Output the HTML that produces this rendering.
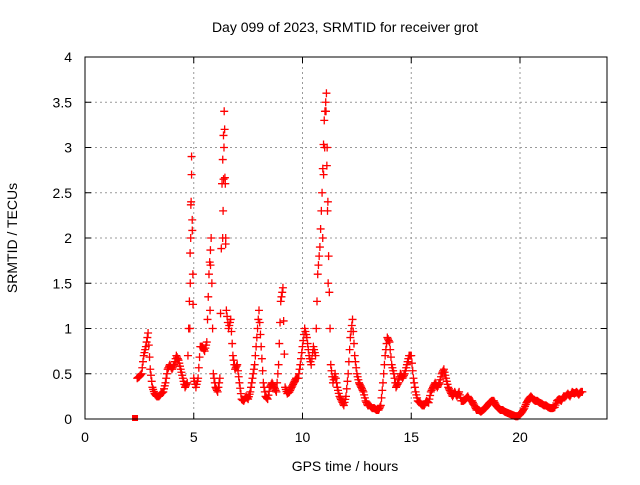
<!DOCTYPE html>
<html><head><meta charset="utf-8"><style>
body{margin:0;background:#fff}
svg text{font-family:"Liberation Sans",sans-serif;font-size:14px;fill:#000}
</style></head><body>
<svg id="chart" width="640" height="480" viewBox="0 0 640 480" xmlns="http://www.w3.org/2000/svg">
<rect width="640" height="480" fill="#fff"/>
<text x="345" y="32" text-anchor="middle">Day 099 of 2023, SRMTID for receiver grot</text>
<text x="345" y="471" text-anchor="middle">GPS time / hours</text>
<text x="17" y="238" text-anchor="middle" transform="rotate(-90 17 238)">SRMTID / TECUs</text>
<g id="grid"></g><g id="ticks"></g><g id="marks"></g>
<rect x="85" y="57" width="522" height="362" fill="none" stroke="#000" stroke-width="1"/>
</svg>
<script>
const xTicks=[0,5,10,15,20];
const yTicks=[0,0.5,1,1.5,2,2.5,3,3.5,4];
const yTickLabels=["0","0.5","1","1.5","2","2.5","3","3.5","4"];
const times=[2.4,2.5,2.6,2.7,2.8,2.9,3.0,3.1,3.2,3.3,3.4,3.5,3.6,3.7,3.8,3.9,4.0,4.1,4.2,4.3,4.4,4.5,4.6,4.7,4.8,4.9,5.0,5.1,5.2,5.3,5.4,5.5,5.6,5.7,5.8,5.9,6.0,6.1,6.2,6.3,6.4,6.5,6.6,6.7,6.8,6.9,7.0,7.1,7.2,7.3,7.4,7.5,7.6,7.7,7.8,7.9,8.0,8.1,8.2,8.3,8.4,8.5,8.6,8.7,8.8,8.9,9.0,9.1,9.2,9.3,9.4,9.5,9.6,9.7,9.8,9.9,10.0,10.1,10.2,10.3,10.4,10.5,10.6,10.7,10.8,10.9,11.0,11.1,11.2,11.3,11.4,11.5,11.6,11.7,11.8,11.9,12.0,12.1,12.2,12.3,12.4,12.5,12.6,12.7,12.8,12.9,13.0,13.1,13.2,13.3,13.4,13.5,13.6,13.7,13.8,13.9,14.0,14.1,14.2,14.3,14.4,14.5,14.6,14.7,14.8,14.9,15.0,15.1,15.2,15.3,15.4,15.5,15.6,15.7,15.8,15.9,16.0,16.1,16.2,16.3,16.4,16.5,16.6,16.7,16.8,16.9,17.0,17.1,17.2,17.3,17.4,17.5,17.6,17.7,17.8,17.9,18.0,18.1,18.2,18.3,18.4,18.5,18.6,18.7,18.8,18.9,19.0,19.1,19.2,19.3,19.4,19.5,19.6,19.7,19.8,19.9,20.0,20.1,20.2,20.3,20.4,20.5,20.6,20.7,20.8,20.9,21.0,21.1,21.2,21.3,21.4,21.5,21.6,21.7,21.8,21.9,22.0,22.1,22.2,22.3,22.4,22.5,22.6,22.7,22.8];
const values=[.45,.47,.5,.7,.8,.95,.55,.35,.28,.25,.25,.28,.3,.4,.55,.6,.55,.6,.7,.65,.55,.45,.35,.4,1.3,2.9,.45,.35,.45,.8,.8,.75,.85,1.6,2.0,.5,.35,.3,.45,2.6,3.4,1.2,1.0,1.1,.7,.55,.6,.4,.22,.2,.25,.22,.3,.45,.6,.9,1.2,.8,.4,.25,.22,.35,.4,.35,.3,.6,1.3,1.45,.35,.28,.3,.35,.4,.45,.45,.6,.8,1.0,.9,.7,.6,.8,.7,1.6,1.9,2.5,3.3,3.6,1.8,.6,.4,.5,.35,.25,.2,.15,.25,.5,.9,1.1,.7,.5,.4,.35,.3,.2,.15,.15,.12,.12,.1,.1,.15,.4,.7,.9,.85,.6,.5,.35,.4,.5,.45,.5,.6,.7,.7,.45,.3,.2,.18,.15,.15,.2,.18,.3,.35,.4,.35,.4,.5,.55,.45,.35,.3,.25,.3,.25,.3,.2,.2,.22,.25,.2,.2,.15,.1,.1,.08,.1,.12,.15,.18,.2,.2,.15,.12,.1,.1,.08,.07,.06,.05,.04,.03,.03,.05,.08,.12,.18,.22,.25,.22,.2,.2,.18,.17,.15,.15,.13,.12,.12,.13,.2,.22,.2,.25,.25,.28,.25,.3,.28,.3,.27,.3];
const spikeTimes=[4.82,4.84,4.86,4.88,4.9,4.93,4.96,5.75,5.77,6.33,6.35,6.37,6.39,6.42,6.45,6.47,10.93,10.97,11.02,11.08,11.12,11.15,11.18];
const spikeValues=[1.0,1.5,2.0,2.4,2.7,2.2,1.6,1.2,1.7,2.0,2.3,2.65,3.0,3.2,2.6,2.0,2.0,2.7,3.0,3.4,2.8,2.3,1.5];
const squareTimes=[2.3];
const squareValues=[0];
const X=t=>85+t*(522/24);
const Y=v=>419-v*(362/4);
const NS="http://www.w3.org/2000/svg";
const grid=document.getElementById('grid'),tk=document.getElementById('ticks'),mk=document.getElementById('marks');
function mkEl(tag,attrs,parent){const e=document.createElementNS(NS,tag);for(const k in attrs)e.setAttribute(k,attrs[k]);parent.appendChild(e);return e;}
xTicks.forEach(t=>{
 if(t>0){const g=mkEl('line',{x1:X(t),x2:X(t),y1:57,y2:419,stroke:'#999','stroke-dasharray':'2,3'},grid);
 
 }
 mkEl('line',{x1:X(t),x2:X(t),y1:419,y2:413,stroke:'#000'},tk);
 mkEl('line',{x1:X(t),x2:X(t),y1:57,y2:63,stroke:'#000'},tk);
 const l=mkEl('text',{x:X(t),y:442,'text-anchor':'middle'},tk);l.textContent=t;
 
 
});
yTicks.forEach((v,i)=>{
 if(v>0&&v<4){const g=mkEl('line',{x1:85,x2:607,y1:Y(v),y2:Y(v),stroke:'#999','stroke-dasharray':'2,3'},grid);
 
 }
 mkEl('line',{x1:85,x2:91,y1:Y(v),y2:Y(v),stroke:'#000'},tk);
 mkEl('line',{x1:607,x2:601,y1:Y(v),y2:Y(v),stroke:'#000'},tk);
 const l=mkEl('text',{x:72,y:Y(v)+5,'text-anchor':'end'},tk);l.textContent=yTickLabels[i];
 
 
});
function plus(t,v){
 const x=X(t),y=Y(v);
 const p=mkEl('path',{d:`M${x-4},${y}H${x+4}M${x},${y-4}V${y+4}`,stroke:'#f00','stroke-width':1.3,fill:'none'},mk);
 
 
}
times.forEach((t,i)=>{
 const a=values[i],b=values[i+1]??values[i];
 plus(t,a);plus(t+0.033,a+(b-a)/3);plus(t+0.067,a+2*(b-a)/3);
});
spikeTimes.forEach((t,i)=>plus(t,spikeValues[i]));
squareTimes.forEach((t,i)=>{
 const r=mkEl('rect',{x:X(t)-3,y:Y(squareValues[i])-4,width:6,height:6,fill:'#f00'},mk);
 
 
});
</script>
</body></html>
